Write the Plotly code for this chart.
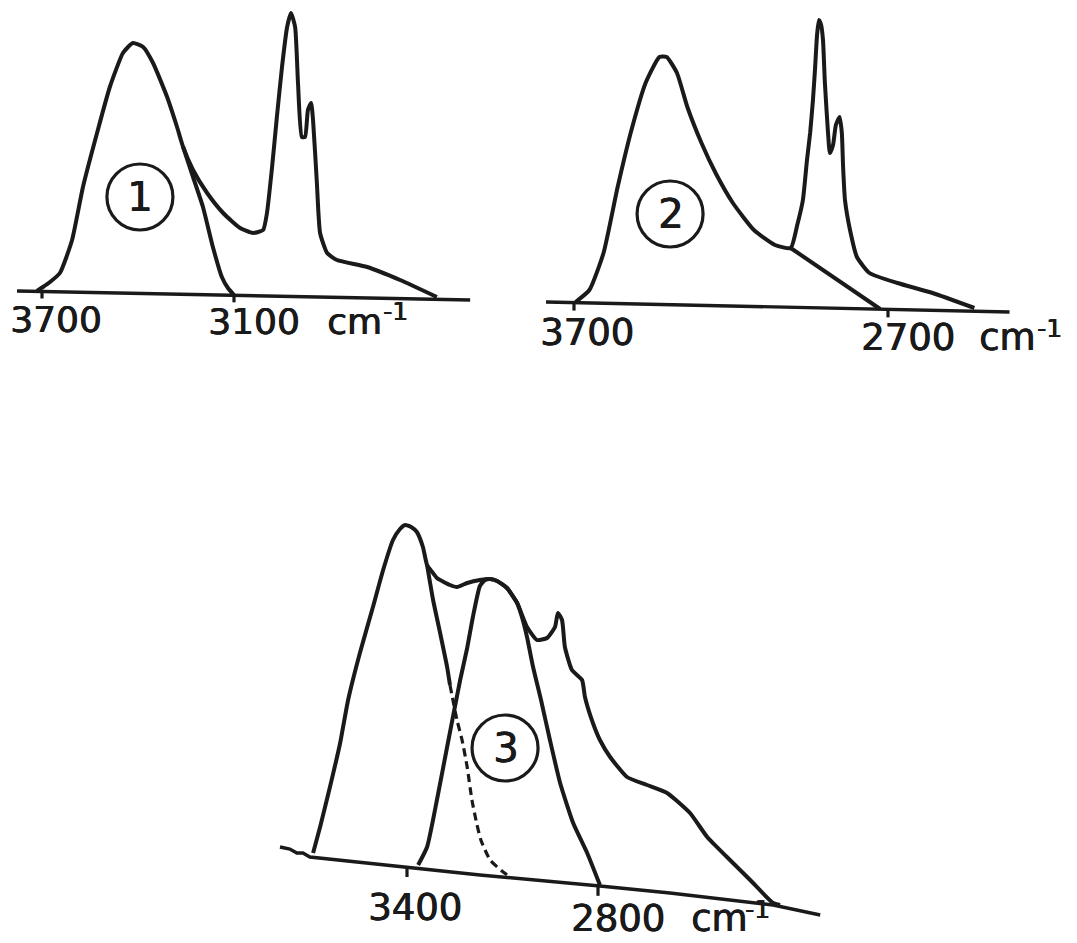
import numpy as np
import plotly.graph_objects as go

W, H = 1077, 943
INK = "#1a1a1a"
FONT = "DejaVu Sans"
HEAVY = "0.7px 0 0 #1a1a1a, 0 0.4px 0 #1a1a1a"  # thickens the printed lettering a little

# ---------------- spectrum 1 ----------------
s1_env_wn = [3716, 3697, 3675, 3644, 3606, 3572, 3528, 3488, 3447, 3416,
             3384, 3353, 3309, 3278, 3259, 3228, 3184, 3134, 3081, 3041,
             3009, 2997, 2981, 2966, 2950, 2934, 2922, 2909, 2900, 2888,
             2878, 2869, 2859, 2853, 2841, 2831, 2809, 2778, 2684, 2581, 2466]
s1_env_a = [-0.01, 0.03, 0.08, 0.17, 0.50, 1.03, 1.57, 2.03, 2.37, 2.47,
            2.43, 2.27, 1.93, 1.63, 1.43, 1.20, 0.97, 0.77, 0.62, 0.57,
            0.60, 0.77, 1.23, 1.73, 2.23, 2.63, 2.77, 2.63, 2.07, 1.53,
            1.53, 1.80, 1.87, 1.70, 1.07, 0.57, 0.37, 0.30, 0.23, 0.10, -0.07]
# resolved O-H component, from where it leaves the envelope
s1_band_wn = [3259, 3228, 3197, 3166, 3138, 3119, 3100]
s1_band_a = [1.43, 1.13, 0.83, 0.43, 0.13, 0.02, -0.05]
s1_base_wn = [3778, 2362]
s1_base_a = [-0.01, -0.10]
s1_ticks = [3700, 3100]
s1_tick_text = ["3700", "3100"]

# ---------------- spectrum 2 ----------------
s2_env_wn = [3695, 3651, 3606, 3561, 3517, 3472, 3428, 3405, 3372, 3339,
             3294, 3249, 3194, 3127, 3060, 3010, 2989, 2971, 2958, 2948,
             2939, 2932, 2926, 2920, 2913, 2907, 2901, 2891, 2885, 2875,
             2866, 2854, 2847, 2843, 2837, 2821, 2799, 2759, 2670, 2558, 2425]
s2_env_a = [0.00, 0.12, 0.49, 1.15, 1.72, 2.19, 2.45, 2.45, 2.29, 1.95,
            1.59, 1.29, 0.99, 0.72, 0.57, 0.54, 0.77, 1.02, 1.42, 1.69,
            2.02, 2.35, 2.67, 2.82, 2.77, 2.62, 2.19, 1.69, 1.49, 1.57,
            1.77, 1.85, 1.69, 1.35, 1.02, 0.72, 0.45, 0.29, 0.19, 0.09, -0.06]
s2_band_wn = [3010, 2725]
s2_band_a = [0.54, -0.07]
s2_base_wn = [3789, 2313]
s2_base_a = [0.00, -0.10]
s2_ticks = [3700, 2700]
s2_tick_text = ["3700", "2700"]

# ---------------- spectrum 3 ----------------
s3_env_wn = [3695, 3673, 3642, 3610, 3585, 3548, 3507, 3475, 3444, 3422,
             3406, 3387, 3369, 3350, 3337, 3321, 3306, 3265, 3243, 3211,
             3171, 3139, 3117, 3086, 3054, 3023, 2992, 2960, 2935, 2926,
             2913, 2904, 2882, 2850, 2841, 2816, 2794, 2762, 2709, 2646,
             2583, 2511, 2457, 2395, 2322, 2250, 2228]
s3_env_a = [0.04, 0.30, 0.70, 1.14, 1.57, 2.04, 2.50, 2.87, 3.17, 3.28,
            3.32, 3.30, 3.25, 3.10, 2.92, 2.85, 2.79, 2.72, 2.70, 2.74,
            2.77, 2.78, 2.76, 2.69, 2.54, 2.30, 2.17, 2.19, 2.30, 2.44,
            2.37, 2.10, 1.87, 1.77, 1.60, 1.34, 1.17, 1.00, 0.80, 0.72,
            0.64, 0.44, 0.20, 0.00, -0.23, -0.46, -0.48]
# high-frequency component: drawn part and extrapolated (dashed) part
s3_bandA_wn = [3337, 3318, 3296, 3274, 3265]
s3_bandA_a = [2.92, 2.57, 2.24, 1.90, 1.72]
s3_bandA_ext_wn = [3265, 3243, 3227, 3211, 3196, 3180, 3168, 3139, 3098, 3076]
s3_bandA_ext_a = [1.72, 1.37, 1.17, 0.90, 0.57, 0.32, 0.17, -0.03, -0.15, -0.20]
# low-frequency component
s3_bandB_wn = [3365, 3337, 3306, 3271, 3249, 3233, 3211, 3193, 3171, 3155,
               3139, 3117, 3086, 3054, 3039, 3023, 3004, 2979, 2951, 2919,
               2878, 2834, 2794]
s3_bandB_a = [-0.08, 0.10, 0.57, 1.15, 1.51, 1.77, 2.09, 2.40, 2.71, 2.77,
              2.78, 2.76, 2.69, 2.54, 2.40, 2.20, 1.90, 1.57, 1.17, 0.74,
              0.34, 0.04, -0.28]
s3_base_wn = [3799, 3768, 3746, 3727, 3705, 3400, 3171, 2794, 2574, 2250, 2102]
s3_base_a = [0.10, 0.08, 0.04, 0.04, 0.00, -0.10, -0.18, -0.29, -0.36, -0.48, -0.58]
s3_ticks = [3400, 2800]
s3_tick_text = ["3400", "2800"]

# sample numbers and the spot where each circled number sits
sample_ids = ["1", "2", "3"]
sample_label_wn = [3394, 3394, 3092]
sample_label_a = [0.93, 0.88, 1.09]

# ---------------- panel geometry (pixels on the page) ----------------
panels = [
    dict(px=(0, 500), py=(0, 370), cal=(3700, 42, 3100, 234), ref=290,
         ticklen=0.07, lab=[(-30, 41), (-24, 40)], unit_dx=94, exp_dx=149, fs=36),
    dict(px=(540, 1077), py=(0, 370), cal=(3700, 574, 2700, 888), ref=302,
         ticklen=0.08, lab=[(-32, 44), (-25, 43)], unit_dx=92, exp_dx=149, fs=37),
    dict(px=(260, 840), py=(480, 943), cal=(3400, 407, 2800, 598), ref=857,
         ticklen=0.10, lab=[(-37, 55), (-25, 47)], unit_dx=94, exp_dx=147, fs=37),
]

spectra = [
    dict(env=(s1_env_wn, s1_env_a), bands=[(s1_band_wn, s1_band_a, "solid")],
         base=(s1_base_wn, s1_base_a), ticks=s1_ticks, tick_text=s1_tick_text),
    dict(env=(s2_env_wn, s2_env_a), bands=[(s2_band_wn, s2_band_a, "solid")],
         base=(s2_base_wn, s2_base_a), ticks=s2_ticks, tick_text=s2_tick_text),
    dict(env=(s3_env_wn, s3_env_a),
         bands=[(s3_bandA_wn, s3_bandA_a, "solid"),
                (s3_bandA_ext_wn, s3_bandA_ext_a, "8px,5px"),
                (s3_bandB_wn, s3_bandB_a, "solid")],
         base=(s3_base_wn, s3_base_a), ticks=s3_ticks, tick_text=s3_tick_text),
]

LW = 4.0

fig = go.Figure()
layout_axes = {}
annotations = []
shapes = []

for i, (pan, spec) in enumerate(zip(panels, spectra)):
    k = "" if i == 0 else str(i + 1)
    xa, ya = "x" + k, "y" + k
    t_a, px_a, t_b, px_b = pan["cal"]
    scale = (px_b - px_a) / (t_a - t_b)  # pixels per cm-1
    x0, x1 = pan["px"]
    y0, y1 = pan["py"]
    layout_axes["xaxis" + k] = dict(
        domain=[x0 / W, x1 / W],
        range=[t_a + (px_a - x0) / scale, t_a - (x1 - px_a) / scale],
        visible=False, anchor=ya, fixedrange=True)
    layout_axes["yaxis" + k] = dict(
        domain=[1 - y1 / H, 1 - y0 / H],
        range=[(pan["ref"] - y1) / 100, (pan["ref"] - y0) / 100],
        visible=False, anchor=xa, fixedrange=True)

    bw, ba = spec["base"]
    fig.add_trace(go.Scatter(x=bw, y=ba, mode="lines", xaxis=xa, yaxis=ya,
                             line=dict(color=INK, width=3.4), hoverinfo="skip"))
    ew, ea = spec["env"]
    fig.add_trace(go.Scatter(x=ew, y=ea, mode="lines", xaxis=xa, yaxis=ya,
                             line=dict(color=INK, width=LW, shape="spline", smoothing=0.5),
                             hoverinfo="skip"))
    for bwn, bab, dash in spec["bands"]:
        w = LW if dash == "solid" else 3.2
        fig.add_trace(go.Scatter(x=bwn, y=bab, mode="lines", xaxis=xa, yaxis=ya,
                                 line=dict(color=INK, width=w, dash=dash,
                                           shape="spline", smoothing=0.5),
                                 hoverinfo="skip"))

    # tick marks hanging below the baseline
    base_at = np.interp(spec["ticks"], bw[::-1], ba[::-1])
    tx, ty = [], []
    for t, b in zip(spec["ticks"], base_at):
        tx += [t, t, None]
        ty += [b, b - pan["ticklen"], None]
    fig.add_trace(go.Scatter(x=tx, y=ty, mode="lines", xaxis=xa, yaxis=ya,
                             line=dict(color=INK, width=3.2), hoverinfo="skip"))

    # tick numbers, then the unit cm and its exponent after the second one
    tfont = dict(family=FONT, size=pan["fs"], color=INK, shadow=HEAVY)
    for (t, b, txt, (dx, dy)) in zip(spec["ticks"], base_at, spec["tick_text"], pan["lab"]):
        annotations.append(dict(x=t, y=b, xref=xa, yref=ya, text=txt, showarrow=False,
                                xanchor="left", yanchor="bottom",
                                xshift=dx - 4, yshift=-(dy + 9), font=tfont))
    t, b = spec["ticks"][-1], base_at[-1]
    dx, dy = pan["lab"][-1]
    annotations.append(dict(x=t, y=b, xref=xa, yref=ya, text="cm",
                            showarrow=False, xanchor="left", yanchor="bottom",
                            xshift=pan["unit_dx"] - 3, yshift=-(dy + 9), font=tfont))
    annotations.append(dict(x=t, y=b, xref=xa, yref=ya, text="-1",
                            showarrow=False, xanchor="left", yanchor="bottom",
                            xshift=pan["exp_dx"] - 2, yshift=-(dy - 14 + 7),
                            font=dict(family=FONT, size=25, color=INK, shadow=HEAVY)))

    # circled sample number
    cx, cy = sample_label_wn[i], sample_label_a[i]
    shapes.append(dict(type="circle", xref=xa, yref=ya,
                       xsizemode="pixel", ysizemode="pixel",
                       xanchor=cx, yanchor=cy, x0=-33, x1=33, y0=-33, y1=33,
                       line=dict(color=INK, width=3.2)))
    annotations.append(dict(x=cx, y=cy, xref=xa, yref=ya, text=sample_ids[i],
                            showarrow=False, xanchor="center", yanchor="middle",
                            font=dict(family=FONT, size=40, color=INK, shadow=HEAVY)))

fig.update_layout(
    width=W, height=H,
    margin=dict(l=0, r=0, t=0, b=0),
    paper_bgcolor="white", plot_bgcolor="rgba(0,0,0,0)",
    showlegend=False,
    annotations=annotations, shapes=shapes,
    **layout_axes,
)

fig.write_html("out.html", config={"displayModeBar": False})
